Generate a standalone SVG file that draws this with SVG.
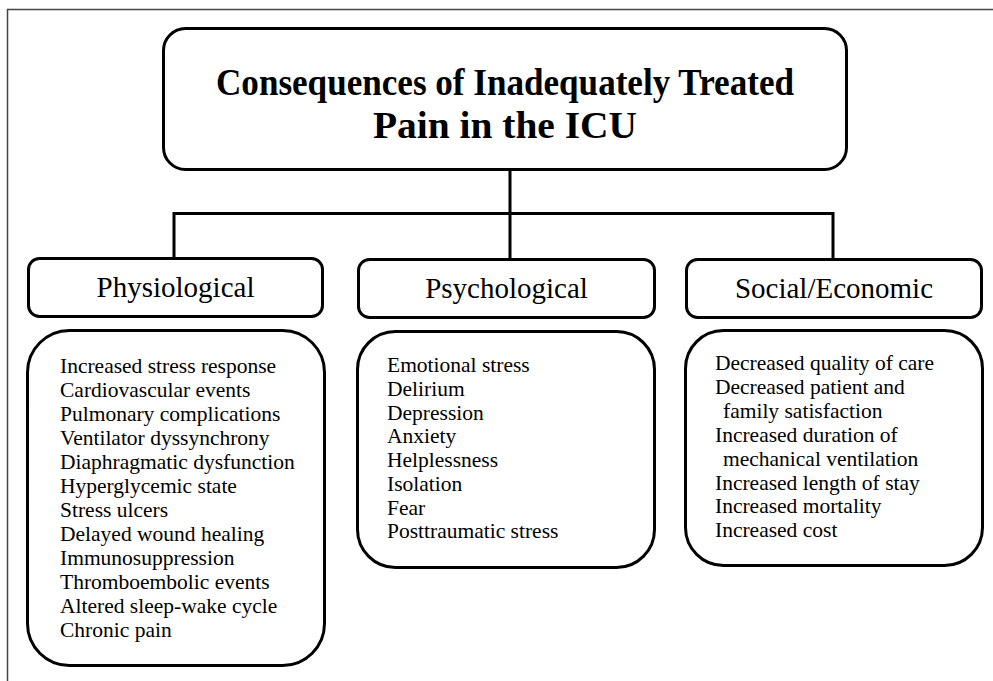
<svg xmlns="http://www.w3.org/2000/svg" width="993" height="681" viewBox="0 0 993 681">
<style>
.box{fill:#fff;stroke:#000;stroke-width:3}
.frame{fill:none;stroke:#444;stroke-width:1.5}
.conn{fill:none;stroke:#000;stroke-width:3}
.title{font-family:"Liberation Serif",serif;font-weight:bold;font-size:38px;fill:#000}
.head{font-family:"Liberation Serif",serif;font-size:29px;fill:#000}
.item{font-family:"Liberation Serif",serif;font-size:21.5px;fill:#000}
</style>
<rect width="993" height="681" fill="#fff"/>
<path class="frame" d="M7.5,681 V9.5 H993"/>
<g id="connectors">
<path class="conn" d="M510,169 V259"/>
<path class="conn" d="M174,259 V213.5 H833 V259"/>
</g>
<g id="title">
<rect class="box" x="163.5" y="28.5" width="683" height="141" rx="22"/>
<text class="title" x="505" y="95" text-anchor="middle" textLength="578" lengthAdjust="spacingAndGlyphs">Consequences of Inadequately Treated</text>
<text class="title" x="505" y="138" text-anchor="middle" textLength="264" lengthAdjust="spacingAndGlyphs">Pain in the ICU</text>
</g>
<g id="physiological">
<rect class="box" x="28.5" y="258.5" width="294" height="58" rx="11"/>
<text class="head" x="175.5" y="297" text-anchor="middle">Physiological</text>
</g>
<g id="psychological">
<rect class="box" x="358.5" y="259.5" width="296" height="58" rx="11"/>
<text class="head" x="506.5" y="298" text-anchor="middle">Psychological</text>
</g>
<g id="social">
<rect class="box" x="686.5" y="259.5" width="295" height="58" rx="11"/>
<text class="head" x="834" y="298" text-anchor="middle">Social/Economic</text>
</g>
<g id="physiological-list">
<rect class="box" x="27.5" y="330.5" width="297" height="335" rx="42"/>
<text class="item" x="60" y="373">Increased stress response</text>
<text class="item" x="60" y="397">Cardiovascular events</text>
<text class="item" x="60" y="421">Pulmonary complications</text>
<text class="item" x="60" y="445">Ventilator dyssynchrony</text>
<text class="item" x="60" y="469">Diaphragmatic dysfunction</text>
<text class="item" x="60" y="493">Hyperglycemic state</text>
<text class="item" x="60" y="517">Stress ulcers</text>
<text class="item" x="60" y="541">Delayed wound healing</text>
<text class="item" x="60" y="565">Immunosuppression</text>
<text class="item" x="60" y="589">Thromboembolic events</text>
<text class="item" x="60" y="613">Altered sleep-wake cycle</text>
<text class="item" x="60" y="637">Chronic pain</text>
</g>
<g id="psychological-list">
<rect class="box" x="357.5" y="331.5" width="297" height="236" rx="38"/>
<text class="item" x="387" y="372">Emotional stress</text>
<text class="item" x="387" y="396">Delirium</text>
<text class="item" x="387" y="420">Depression</text>
<text class="item" x="387" y="443">Anxiety</text>
<text class="item" x="387" y="467">Helplessness</text>
<text class="item" x="387" y="491">Isolation</text>
<text class="item" x="387" y="515">Fear</text>
<text class="item" x="387" y="538">Posttraumatic stress</text>
</g>
<g id="social-list">
<rect class="box" x="685.5" y="330.5" width="297" height="235" rx="38"/>
<text class="item" x="715" y="370">Decreased quality of care</text>
<text class="item" x="715" y="394">Decreased patient and</text>
<text class="item" x="723" y="418">family satisfaction</text>
<text class="item" x="715" y="442">Increased duration of</text>
<text class="item" x="723" y="466">mechanical ventilation</text>
<text class="item" x="715" y="490">Increased length of stay</text>
<text class="item" x="715" y="513">Increased mortality</text>
<text class="item" x="715" y="537">Increased cost</text>
</g>
</svg>
